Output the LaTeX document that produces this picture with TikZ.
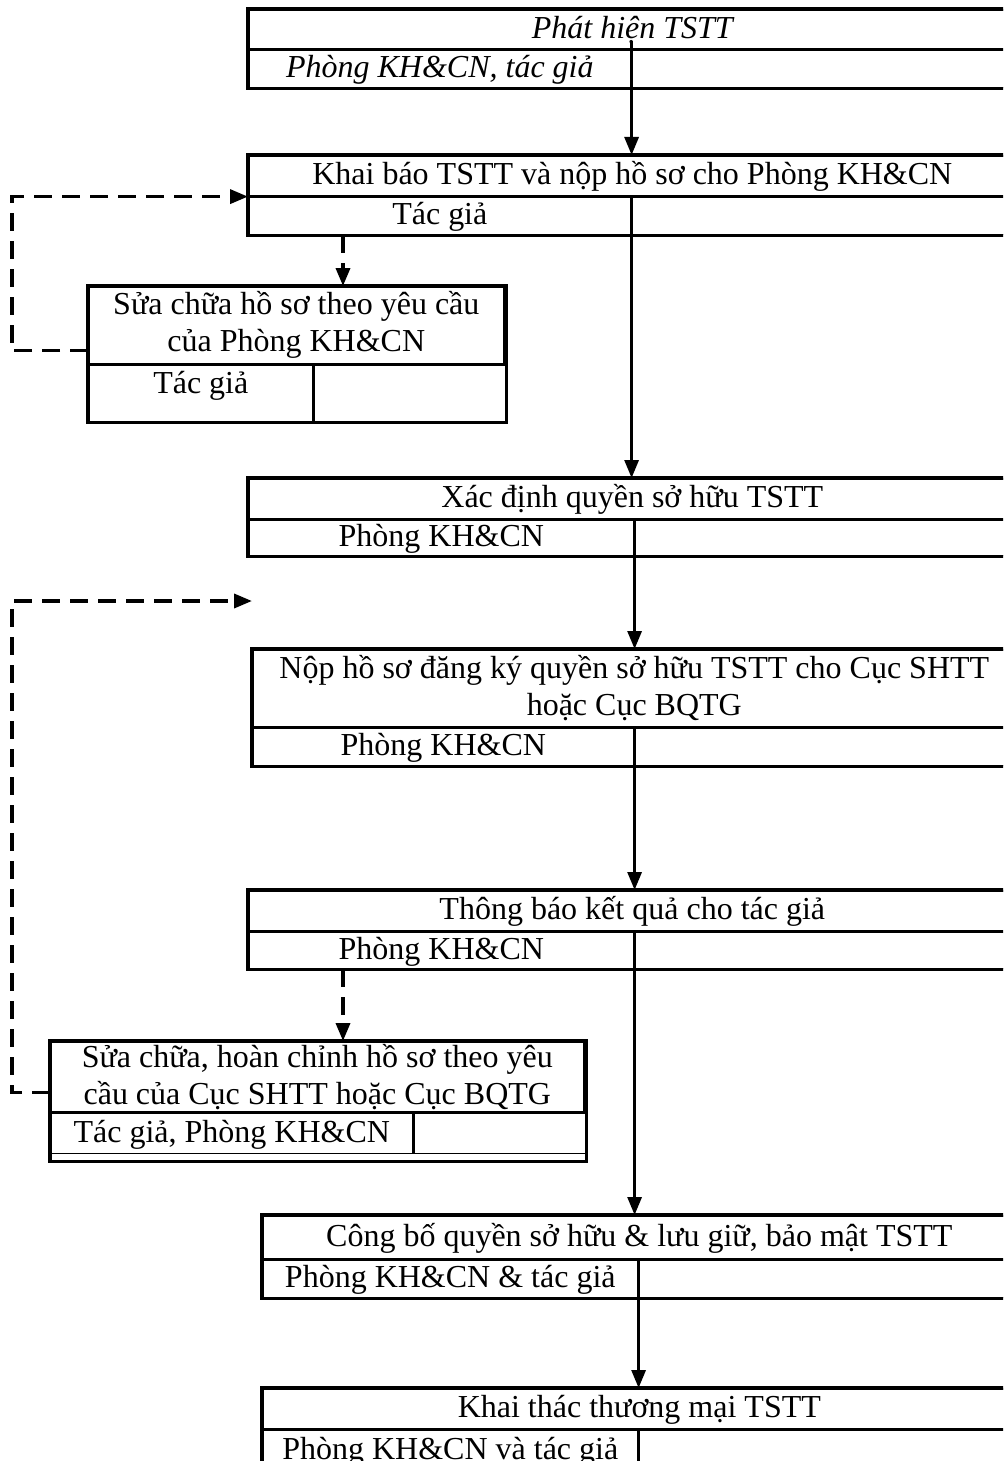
\documentclass[tikz,border=0pt]{standalone}
\usepackage{fontspec}
\setmainfont{Liberation Serif}
\usetikzlibrary{arrows.meta}

\tikzset{
  cell/.style={draw, line width=0.8pt, rectangle, inner sep=0pt, anchor=north west, align=center},
  oneline/.style={text height=12pt, text depth=3pt},
  frame/.style={line width=1.6pt},
  flow/.style={line width=1.5pt, -{Triangle[length=9pt,width=7pt]}},
  back/.style={line width=1.8pt, dash pattern=on 9pt off 5pt, -{Triangle[length=9pt,width=7pt]}}
}

\begin{document}
\begin{tikzpicture}[x=0.5pt, y=-0.5pt, font=\fontsize{16}{18.5}\selectfont]
\useasboundingbox (0,0) rectangle (1003,1461);
\clip (0,0) rectangle (1003,1461);

% step 1
\node[cell, oneline, minimum width=383.5pt, minimum height=19.5pt] (bx1) at (248,9) {\itshape Phát hiện TSTT};
\node[cell, oneline, minimum width=191pt, minimum height=18.5pt] (bx1l) at (bx1.south west) {\itshape Phòng KH\&CN, tác giả};
\node[cell, minimum width=192.5pt, minimum height=18.5pt] (bx1r) at (bx1l.north east) {};
\draw[frame] (bx1.north west) rectangle (bx1r.south east);

% step 2
\node[cell, oneline, minimum width=383.5pt, minimum height=20pt] (bx2) at (248,155) {Khai báo TSTT và nộp hồ sơ cho Phòng KH\&CN};
\node[cell, oneline, minimum width=191pt, minimum height=18.5pt] (bx2l) at (bx2.south west) {Tác giả};
\node[cell, minimum width=192.5pt, minimum height=18.5pt] (bx2r) at (bx2l.north east) {};
\draw[frame] (bx2.north west) rectangle (bx2r.south east);

% step 2, correction
\node[cell, minimum width=207.5pt, minimum height=38.5pt] (bx3) at (88,286) {Sửa chữa hồ sơ theo yêu cầu\\của Phòng KH\&CN};
\node[cell, text height=11pt, text depth=11pt, minimum width=112pt, minimum height=28pt] (bx3l) at (bx3.south west) {Tác giả};
\node[cell, minimum width=95.5pt, minimum height=28pt] (bx3r) at (bx3l.north east) {};
\draw[frame] (bx3.north west) rectangle (bx3r.south east);

% step 3
\node[cell, oneline, minimum width=383.5pt, minimum height=20pt] (bx4) at (248,478) {Xác định quyền sở hữu TSTT};
\node[cell, oneline, minimum width=192.5pt, minimum height=17.5pt] (bx4l) at (bx4.south west) {Phòng KH\&CN};
\node[cell, minimum width=191pt, minimum height=17.5pt] (bx4r) at (bx4l.north east) {};
\draw[frame] (bx4.north west) rectangle (bx4r.south east);

% step 4
\node[cell, minimum width=381.5pt, minimum height=38.5pt] (bx5) at (252,649) {Nộp hồ sơ đăng ký quyền sở hữu TSTT cho Cục SHTT\\hoặc Cục BQTG};
\node[cell, oneline, minimum width=190.5pt, minimum height=18.5pt] (bx5l) at (bx5.south west) {Phòng KH\&CN};
\node[cell, minimum width=191pt, minimum height=18.5pt] (bx5r) at (bx5l.north east) {};
\draw[frame] (bx5.north west) rectangle (bx5r.south east);
\coordinate (bx5in) at (252,601);

% step 5
\node[cell, oneline, minimum width=383.5pt, minimum height=20pt] (bx6) at (248,890) {Thông báo kết quả cho tác giả};
\node[cell, oneline, minimum width=192.5pt, minimum height=18pt] (bx6l) at (bx6.south west) {Phòng KH\&CN};
\node[cell, minimum width=191pt, minimum height=18pt] (bx6r) at (bx6l.north east) {};
\draw[frame] (bx6.north west) rectangle (bx6r.south east);

% step 5, correction
\node[cell, minimum width=266.5pt, minimum height=35pt] (bx7) at (50,1041) {Sửa chữa, hoàn chỉnh hồ sơ theo yêu\\cầu của Cục SHTT hoặc Cục BQTG};
\node[cell, oneline, minimum width=181pt, minimum height=20pt] (bx7l) at (bx7.south west) {Tác giả, Phòng KH\&CN};
\node[cell, minimum width=85.5pt, minimum height=20pt] (bx7r) at (bx7l.north east) {};
\draw[frame] (bx7.north west) rectangle ([yshift=-3.5pt]bx7r.south east);

% step 6
\node[cell, oneline, minimum width=376.5pt, minimum height=21.5pt] (bx8) at (262,1215) {Công bố quyền sở hữu \& lưu giữ, bảo mật TSTT};
\node[cell, oneline, minimum width=187.5pt, minimum height=18.5pt] (bx8l) at (bx8.south west) {Phòng KH\&CN \& tác giả};
\node[cell, minimum width=189pt, minimum height=18.5pt] (bx8r) at (bx8l.north east) {};
\draw[frame] (bx8.north west) rectangle (bx8r.south east);

% step 7
\node[cell, oneline, minimum width=376.5pt, minimum height=20pt] (bx9) at (262,1388) {Khai thác thương mại TSTT};
\node[cell, oneline, minimum width=187.5pt, minimum height=20pt] (bx9l) at (bx9.south west) {Phòng KH\&CN và tác giả};
\node[cell, minimum width=189pt, minimum height=20pt] (bx9r) at (bx9l.north east) {};
\draw[frame] (bx9.north west) rectangle (bx9r.south east);

% main flow
\draw[flow] ([yshift=4.5pt]bx1l.north east) -- (bx1l.north east |- bx2.north);
\draw[flow] (bx2l.south east) -- (bx2l.south east |- bx4.north);
\draw[flow] (bx4l.south east) -- (bx4l.south east |- bx5.north);
\draw[flow] (bx5l.south east) -- (bx5l.south east |- bx6.north);
\draw[flow] (bx6l.south east) -- (bx6l.south east |- bx8.north);
\draw[flow] (bx8l.south east) -- (bx8l.south east |- bx9.north);

% corrections and returns
\draw[back] ([xshift=47.5pt]bx2l.south west) coordinate (d2) -- (d2 |- bx3.north);
\draw[back] ([yshift=7pt]bx3.south west) -- ++(-38pt,0) |- (bx2.south west);
\draw[back] ([xshift=47.5pt]bx6l.south west) coordinate (d6) -- (d6 |- bx7.north);
\draw[back] ([yshift=10pt]bx7.south west) -- ++(-19pt,0) |- (bx5in);
\end{tikzpicture}
\end{document}
